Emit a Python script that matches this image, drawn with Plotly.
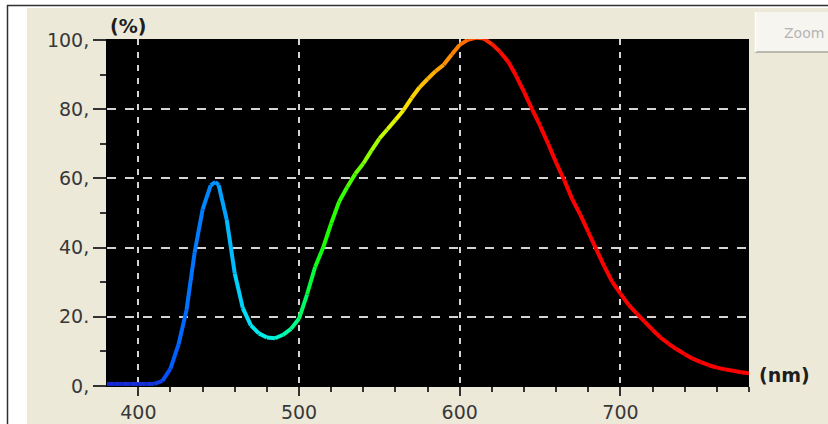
import plotly.graph_objects as go

# ---- data ----
wavelength_nm = [380, 385, 390, 395, 400, 405, 410, 415, 420, 425, 430, 435, 440, 445, 448,
                 450, 455, 460, 465, 470, 475, 480, 485, 490, 495, 500, 505, 510, 515, 520,
                 525, 530, 535, 540, 545, 550, 555, 560, 565, 570, 575, 580, 585, 590, 595,
                 600, 605, 610, 615, 620, 625, 630, 635, 640, 645, 650, 655, 660, 665, 670,
                 675, 680, 685, 690, 695, 700, 705, 710, 715, 720, 725, 730, 735, 740, 745,
                 750, 755, 760, 765, 770, 775, 780]
intensity_pct = [0.6, 0.6, 0.6, 0.6, 0.6, 0.6, 0.6, 1.5, 5, 12, 22, 38.5, 51, 58, 59,
                 58, 48, 32.5, 22.5, 17.5, 15.2, 14, 13.8, 14.8, 16.5, 19.5, 26.5, 34.4, 40, 47,
                 53.3, 57.5, 61.3, 64.3, 68, 71.5, 74.2, 76.9, 79.7, 83.2, 86.3, 88.7, 91, 92.8, 95.8,
                 98.6, 100, 100.6, 100.4, 98.8, 96.6, 93.8, 89.7, 85, 80, 75.2, 70, 64.5, 59.5, 54,
                 49.5, 44.5, 39.5, 34.5, 30, 26.7, 23.5, 21, 18.6, 16.2, 14, 12.2, 10.6, 9.2, 7.9,
                 6.9, 6.0, 5.3, 4.8, 4.4, 4.0, 3.7]

x_tick_vals = [400, 500, 600, 700]
x_tick_text = ["400", "500", "600", "700"]
y_tick_vals = [0, 20, 40, 60, 80, 100]
y_tick_text = ["0,", "20.", "40,", "60,", "80,", "100,"]

# ---- style: spectral colour stops ----
color_stops = [
    (380, (20, 40, 215)), (410, (20, 50, 225)), (420, (0, 90, 255)), (440, (0, 130, 255)),
    (450, (0, 150, 255)), (460, (0, 200, 255)), (470, (0, 230, 245)), (485, (0, 245, 215)),
    (495, (0, 255, 150)), (505, (0, 250, 80)), (515, (20, 255, 0)), (530, (60, 255, 0)),
    (545, (150, 255, 0)), (560, (235, 245, 0)), (570, (255, 215, 0)), (580, (255, 185, 0)),
    (590, (255, 150, 0)), (600, (255, 120, 0)), (610, (255, 80, 0)), (620, (255, 30, 0)),
    (630, (255, 0, 0)), (780, (255, 0, 0)),
]


def spectral(w):
    for (w0, c0), (w1, c1) in zip(color_stops[:-1], color_stops[1:]):
        if w0 <= w <= w1:
            t = (w - w0) / (w1 - w0)
            r, g, b = (round(a + (bb - a) * t) for a, bb in zip(c0, c1))
            return f"rgb({r},{g},{b})"
    return "rgb(255,0,0)"


fig = go.Figure()
for i in range(len(wavelength_nm) - 1):
    xm = (wavelength_nm[i] + wavelength_nm[i + 1]) / 2
    fig.add_trace(go.Scatter(
        x=wavelength_nm[i:i + 2], y=intensity_pct[i:i + 2], mode="lines",
        line=dict(color=spectral(xm), width=4), hoverinfo="skip", showlegend=False,
    ))

W, H = 828, 424
L, R, T, B = 107, 79, 39, 38
PW, PH = W - L - R, H - T - B


def px(xp):
    return (xp - L) / PW


def py(yp):
    return (H - B - yp) / PH


tick_font = dict(family="DejaVu Sans", size=19, color="#383838")
grid_col = "#d4d4d4"

shapes = [
    dict(type="rect", xref="paper", yref="paper", x0=px(0), x1=px(27), y0=py(H), y1=py(0),
         fillcolor="white", line=dict(width=0), layer="below"),
    dict(type="rect", xref="paper", yref="paper", x0=px(0), x1=px(W), y0=py(8), y1=py(0),
         fillcolor="white", line=dict(width=0), layer="below"),
    dict(type="line", xref="paper", yref="paper", x0=px(7.5), x1=px(7.5), y0=py(5), y1=py(H),
         line=dict(color="#303030", width=1.5)),
    dict(type="line", xref="paper", yref="paper", x0=px(7), x1=px(W), y0=py(5.5), y1=py(5.5),
         line=dict(color="#303030", width=1.5)),
    # disabled "Zoom" button
    dict(type="rect", xref="paper", yref="paper", x0=px(755), x1=px(W), y0=py(52), y1=py(12),
         fillcolor="#f6f5f0", line=dict(width=0)),
    dict(type="line", xref="paper", yref="paper", x0=px(755), x1=px(W), y0=py(52), y1=py(52),
         line=dict(color="#a6a69e", width=1.5)),
    dict(type="line", xref="paper", yref="paper", x0=px(755.5), x1=px(755.5), y0=py(52), y1=py(12),
         line=dict(color="#ffffff", width=1.5)),
]

annotations = [
    dict(text="<b>(%)</b>", xref="paper", yref="paper", x=px(128), y=py(26), showarrow=False,
         xanchor="center", yanchor="middle", font=dict(family="DejaVu Sans", size=19, color="#1e1e1e")),
    dict(text="<b>(nm)</b>", xref="paper", yref="paper", x=px(757), y=py(375), showarrow=False,
         xanchor="left", yanchor="middle", font=dict(family="DejaVu Sans", size=19, color="#1e1e1e")),
    dict(text="Zoom", xref="paper", yref="paper", x=px(782), y=py(33), showarrow=False,
         xanchor="left", yanchor="middle",
         font=dict(family="DejaVu Sans", size=14, color="#b4b4b4")),
]

fig.update_layout(
    width=W, height=H, autosize=False,
    margin=dict(l=L, r=R, t=T, b=B, pad=0),
    paper_bgcolor="#ece9d8", plot_bgcolor="black",
    showlegend=False,
    shapes=shapes, annotations=annotations,
    xaxis=dict(
        range=[380.5, 780], tickvals=x_tick_vals, ticktext=x_tick_text,
        ticks="outside", ticklen=9, tickwidth=1.5, tickcolor="#333333",
        showline=True, linecolor="black", linewidth=1, mirror=False,
        showgrid=True, gridcolor=grid_col, gridwidth=2, griddash="6px,7px",
        zeroline=False, tickfont=tick_font, automargin=False,
        minor=dict(dtick=20, tick0=400, ticks="outside", ticklen=5, tickwidth=1.5,
                   tickcolor="#333333", showgrid=False),
        fixedrange=True,
    ),
    yaxis=dict(
        range=[0, 100.26], tickvals=y_tick_vals, ticktext=y_tick_text,
        ticks="outside", ticklen=13, tickwidth=1.5, tickcolor="#333333",
        showline=True, linecolor="black", linewidth=1,
        showgrid=True, gridcolor=grid_col, gridwidth=2, griddash="9px,9px",
        zeroline=False, tickfont=tick_font, automargin=False,
        minor=dict(dtick=10, tick0=0, ticks="outside", ticklen=6, tickwidth=1.5,
                   tickcolor="#333333", showgrid=False),
        fixedrange=True,
    ),
)

fig.write_html("out.html", config={"displayModeBar": False, "responsive": False})
